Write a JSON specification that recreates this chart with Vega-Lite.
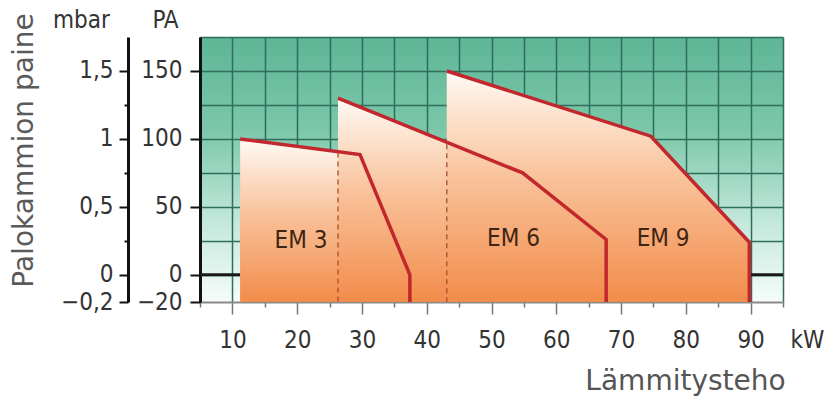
{
  "$schema": "https://vega.github.io/schema/vega-lite/v6.json",
  "width": 583,
  "height": 265,
  "autosize": "none",
  "padding": {"left": 200, "top": 37, "right": 44, "bottom": 102},
  "background": "white",
  "config": {
    "view": {
      "stroke": null,
      "fill": {
        "gradient": "linear", "x1": 0, "y1": 0, "x2": 0, "y2": 1,
        "stops": [
          {"offset": 0, "color": "#5db696"},
          {"offset": 0.35, "color": "#7cc7aa"},
          {"offset": 0.7, "color": "#c3e8da"},
          {"offset": 1, "color": "#f6fcfa"}
        ]
      }
    },
    "axis": {
      "labelFont": "Liberation Sans Narrow, Arial Narrow, DejaVu Sans Condensed, sans-serif",
      "labelFontSize": 24,
      "labelColor": "#333333",
      "titleFont": "Liberation Sans Narrow, Arial Narrow, DejaVu Sans Condensed, sans-serif",
      "titleFontSize": 24,
      "titleFontWeight": "normal",
      "titleColor": "#333333"
    }
  },
  "datasets": {
    "curves": [
      {"series": "EM 3", "i": 1, "kW": 11.2, "pa": 100, "base": -20},
      {"series": "EM 3", "i": 2, "kW": 29.7, "pa": 88.5, "base": -20},
      {"series": "EM 3", "i": 3, "kW": 37.4, "pa": 0, "base": -20},
      {"series": "EM 3", "i": 4, "kW": 37.4, "pa": -20, "base": -20},
      {"series": "EM 6", "i": 1, "kW": 26.3, "pa": 130, "base": -20},
      {"series": "EM 6", "i": 2, "kW": 54.8, "pa": 75, "base": -20},
      {"series": "EM 6", "i": 3, "kW": 67.7, "pa": 26, "base": -20},
      {"series": "EM 6", "i": 4, "kW": 67.7, "pa": -20, "base": -20},
      {"series": "EM 9", "i": 1, "kW": 43.1, "pa": 150, "base": -20},
      {"series": "EM 9", "i": 2, "kW": 74.6, "pa": 102, "base": -20},
      {"series": "EM 9", "i": 3, "kW": 89.8, "pa": 24, "base": -20},
      {"series": "EM 9", "i": 4, "kW": 89.8, "pa": -20, "base": -20}
    ],
    "dashes": [
      {"kW": 26.3, "top": 90, "bottom": -20},
      {"kW": 43.1, "top": 96, "bottom": -20}
    ],
    "labels": [
      {"series": "EM 3", "kW": 20.6, "pa": 25},
      {"series": "EM 6", "kW": 53.4, "pa": 26},
      {"series": "EM 9", "kW": 76.5, "pa": 26}
    ]
  },
  "layer": [
    {
      "data": {"values": [{"v": 0}]},
      "mark": {"type": "rule", "color": "#1a1a1a", "strokeWidth": 3},
      "encoding": {
        "y": {"field": "v", "type": "quantitative", "scale": {"domain": [-20, 175], "nice": false, "zero": false}, "axis": null}
      }
    },
    {
      "data": {"name": "curves"},
      "mark": {"type": "area", "fill": "#f7b68c", "opacity": 1},
      "encoding": {
        "x": {
          "field": "kW", "type": "quantitative",
          "scale": {"domain": [5, 95], "nice": false, "zero": false},
          "axis": {
            "orient": "bottom",
            "values": [5, 10, 15, 20, 25, 30, 35, 40, 45, 50, 55, 60, 65, 70, 75, 80, 85, 90, 95],
            "labelExpr": "datum.value % 10 == 0 && datum.value <= 90 ? datum.label : ''",
            "grid": true, "gridColor": "#2f6e5b", "gridWidth": 1.5, "gridOpacity": 1,
            "domain": true, "domainColor": "#8a8a8a", "domainWidth": 2,
            "ticks": true, "tickColor": "#777777", "tickWidth": 1.5,
            "tickSize": {"condition": {"test": "datum.value % 10 == 0", "value": 12}, "value": 5},
            "labelPadding": 14,
            "labelFlush": false,
            "title": "Lämmitysteho",
            "titleFont": "DejaVu Sans", "titleFontSize": 28, "titleColor": "#555555",
            "titleX": 485, "titleY": 87, "titleAlign": "center", "titleBaseline": "alphabetic"
          }
        },
        "y": {
          "field": "pa", "type": "quantitative",
          "scale": {"domain": [-20, 175], "nice": false, "zero": false},
          "axis": {
            "orient": "left",
            "values": [0, 25, 50, 75, 100, 125, 150, 175],
            "grid": true, "gridColor": "#2f6e5b", "gridWidth": 1.5, "gridOpacity": 1,
            "labels": false, "ticks": false, "domain": false,
            "title": "Palokammion paine",
            "titleFont": "DejaVu Sans", "titleFontSize": 28, "titleColor": "#5a5a5a",
            "titleAngle": 270, "titleX": -176, "titleY": 113,
            "titleAlign": "center", "titleBaseline": "middle"
          }
        },
        "y2": {"field": "base"},
        "detail": {"field": "series", "type": "nominal"}
      }
    },
    {
      "data": {"name": "curves"},
      "mark": {
        "type": "area",
        "opacity": 1,
        "color": {
          "gradient": "linear", "x1": 1, "y1": 0, "x2": 1, "y2": 1,
          "stops": [
            {"offset": 0, "color": "#fffaf5"},
            {"offset": 0.45, "color": "#f9c39c"},
            {"offset": 1, "color": "#f28c4a"}
          ]
        }
      },
      "encoding": {
        "x": {"field": "kW", "type": "quantitative", "axis": null},
        "y": {"field": "pa", "type": "quantitative", "scale": {"domain": [-20, 175], "nice": false, "zero": false}, "axis": null},
        "y2": {"field": "base"},
        "detail": {"field": "series", "type": "nominal"}
      }
    },
    {
      "data": {"name": "dashes"},
      "mark": {"type": "rule", "color": "#a0522d", "strokeWidth": 1.3, "strokeDash": [5, 4]},
      "encoding": {
        "x": {"field": "kW", "type": "quantitative", "axis": null},
        "y": {"field": "top", "type": "quantitative", "scale": {"domain": [-20, 175], "nice": false, "zero": false}, "axis": null},
        "y2": {"field": "bottom"}
      }
    },
    {
      "data": {"name": "curves"},
      "mark": {"type": "line", "color": "#c1272d", "strokeWidth": 3.5, "strokeJoin": "miter"},
      "encoding": {
        "x": {
          "field": "kW", "type": "quantitative",
          "axis": {
            "orient": "bottom",
            "labels": false, "ticks": false, "domain": false, "grid": false,
            "title": "kW", "titleX": 607, "titleY": 45, "titleAlign": "center", "titleBaseline": "alphabetic"
          }
        },
        "y": {
          "field": "pa", "type": "quantitative",
          "scale": {"domain": [-20, 175], "nice": false, "zero": false},
          "axis": {
            "orient": "left",
            "values": [-20, 0, 50, 100, 150],
            "grid": false,
            "domain": true, "domainColor": "#111111", "domainWidth": 3,
            "ticks": true, "tickColor": "#111111", "tickWidth": 2, "tickSize": 10,
            "labelPadding": 8,
            "labelFlush": false,
            "title": "PA", "titleAngle": 0, "titleX": -35, "titleY": -10,
            "titleAlign": "center", "titleBaseline": "alphabetic"
          }
        },
        "detail": {"field": "series", "type": "nominal"},
        "order": {"field": "i", "type": "quantitative"}
      }
    },
    {
      "data": {"name": "labels"},
      "mark": {"type": "text", "font": "Liberation Sans Narrow, Arial Narrow, DejaVu Sans Condensed, sans-serif", "fontSize": 24, "color": "#3e2414"},
      "encoding": {
        "x": {"field": "kW", "type": "quantitative", "axis": null},
        "y": {"field": "pa", "type": "quantitative", "scale": {"domain": [-20, 175], "nice": false, "zero": false}, "axis": null},
        "text": {"field": "series"}
      }
    },
    {
      "data": {"values": [{"m": 0}]},
      "mark": {"type": "point", "opacity": 0},
      "encoding": {
        "y": {
          "field": "m", "type": "quantitative",
          "scale": {"domain": [-0.2, 1.75], "nice": false, "zero": false},
          "axis": {
            "orient": "left", "offset": 72,
            "values": [-0.2, 0, 0.25, 0.5, 0.75, 1, 1.25, 1.5],
            "format": "~g",
            "labelExpr": "datum.value == 0.25 || datum.value == 0.75 || datum.value == 1.25 ? '' : replace(datum.label, '.', ',')",
            "grid": false,
            "domain": true, "domainColor": "#111111", "domainWidth": 3,
            "ticks": true, "tickColor": "#111111", "tickWidth": 2,
            "tickSize": {"condition": {"test": "datum.value == 0.25 || datum.value == 0.75 || datum.value == 1.25", "value": 4}, "value": 9},
            "labelPadding": 6,
            "labelFlush": false,
            "title": "mbar", "titleAngle": 0, "titleX": -47, "titleY": -10,
            "titleAlign": "center", "titleBaseline": "alphabetic"
          }
        }
      }
    }
  ],
  "resolve": {"scale": {"y": "independent"}, "axis": {"x": "independent", "y": "independent"}}
}
